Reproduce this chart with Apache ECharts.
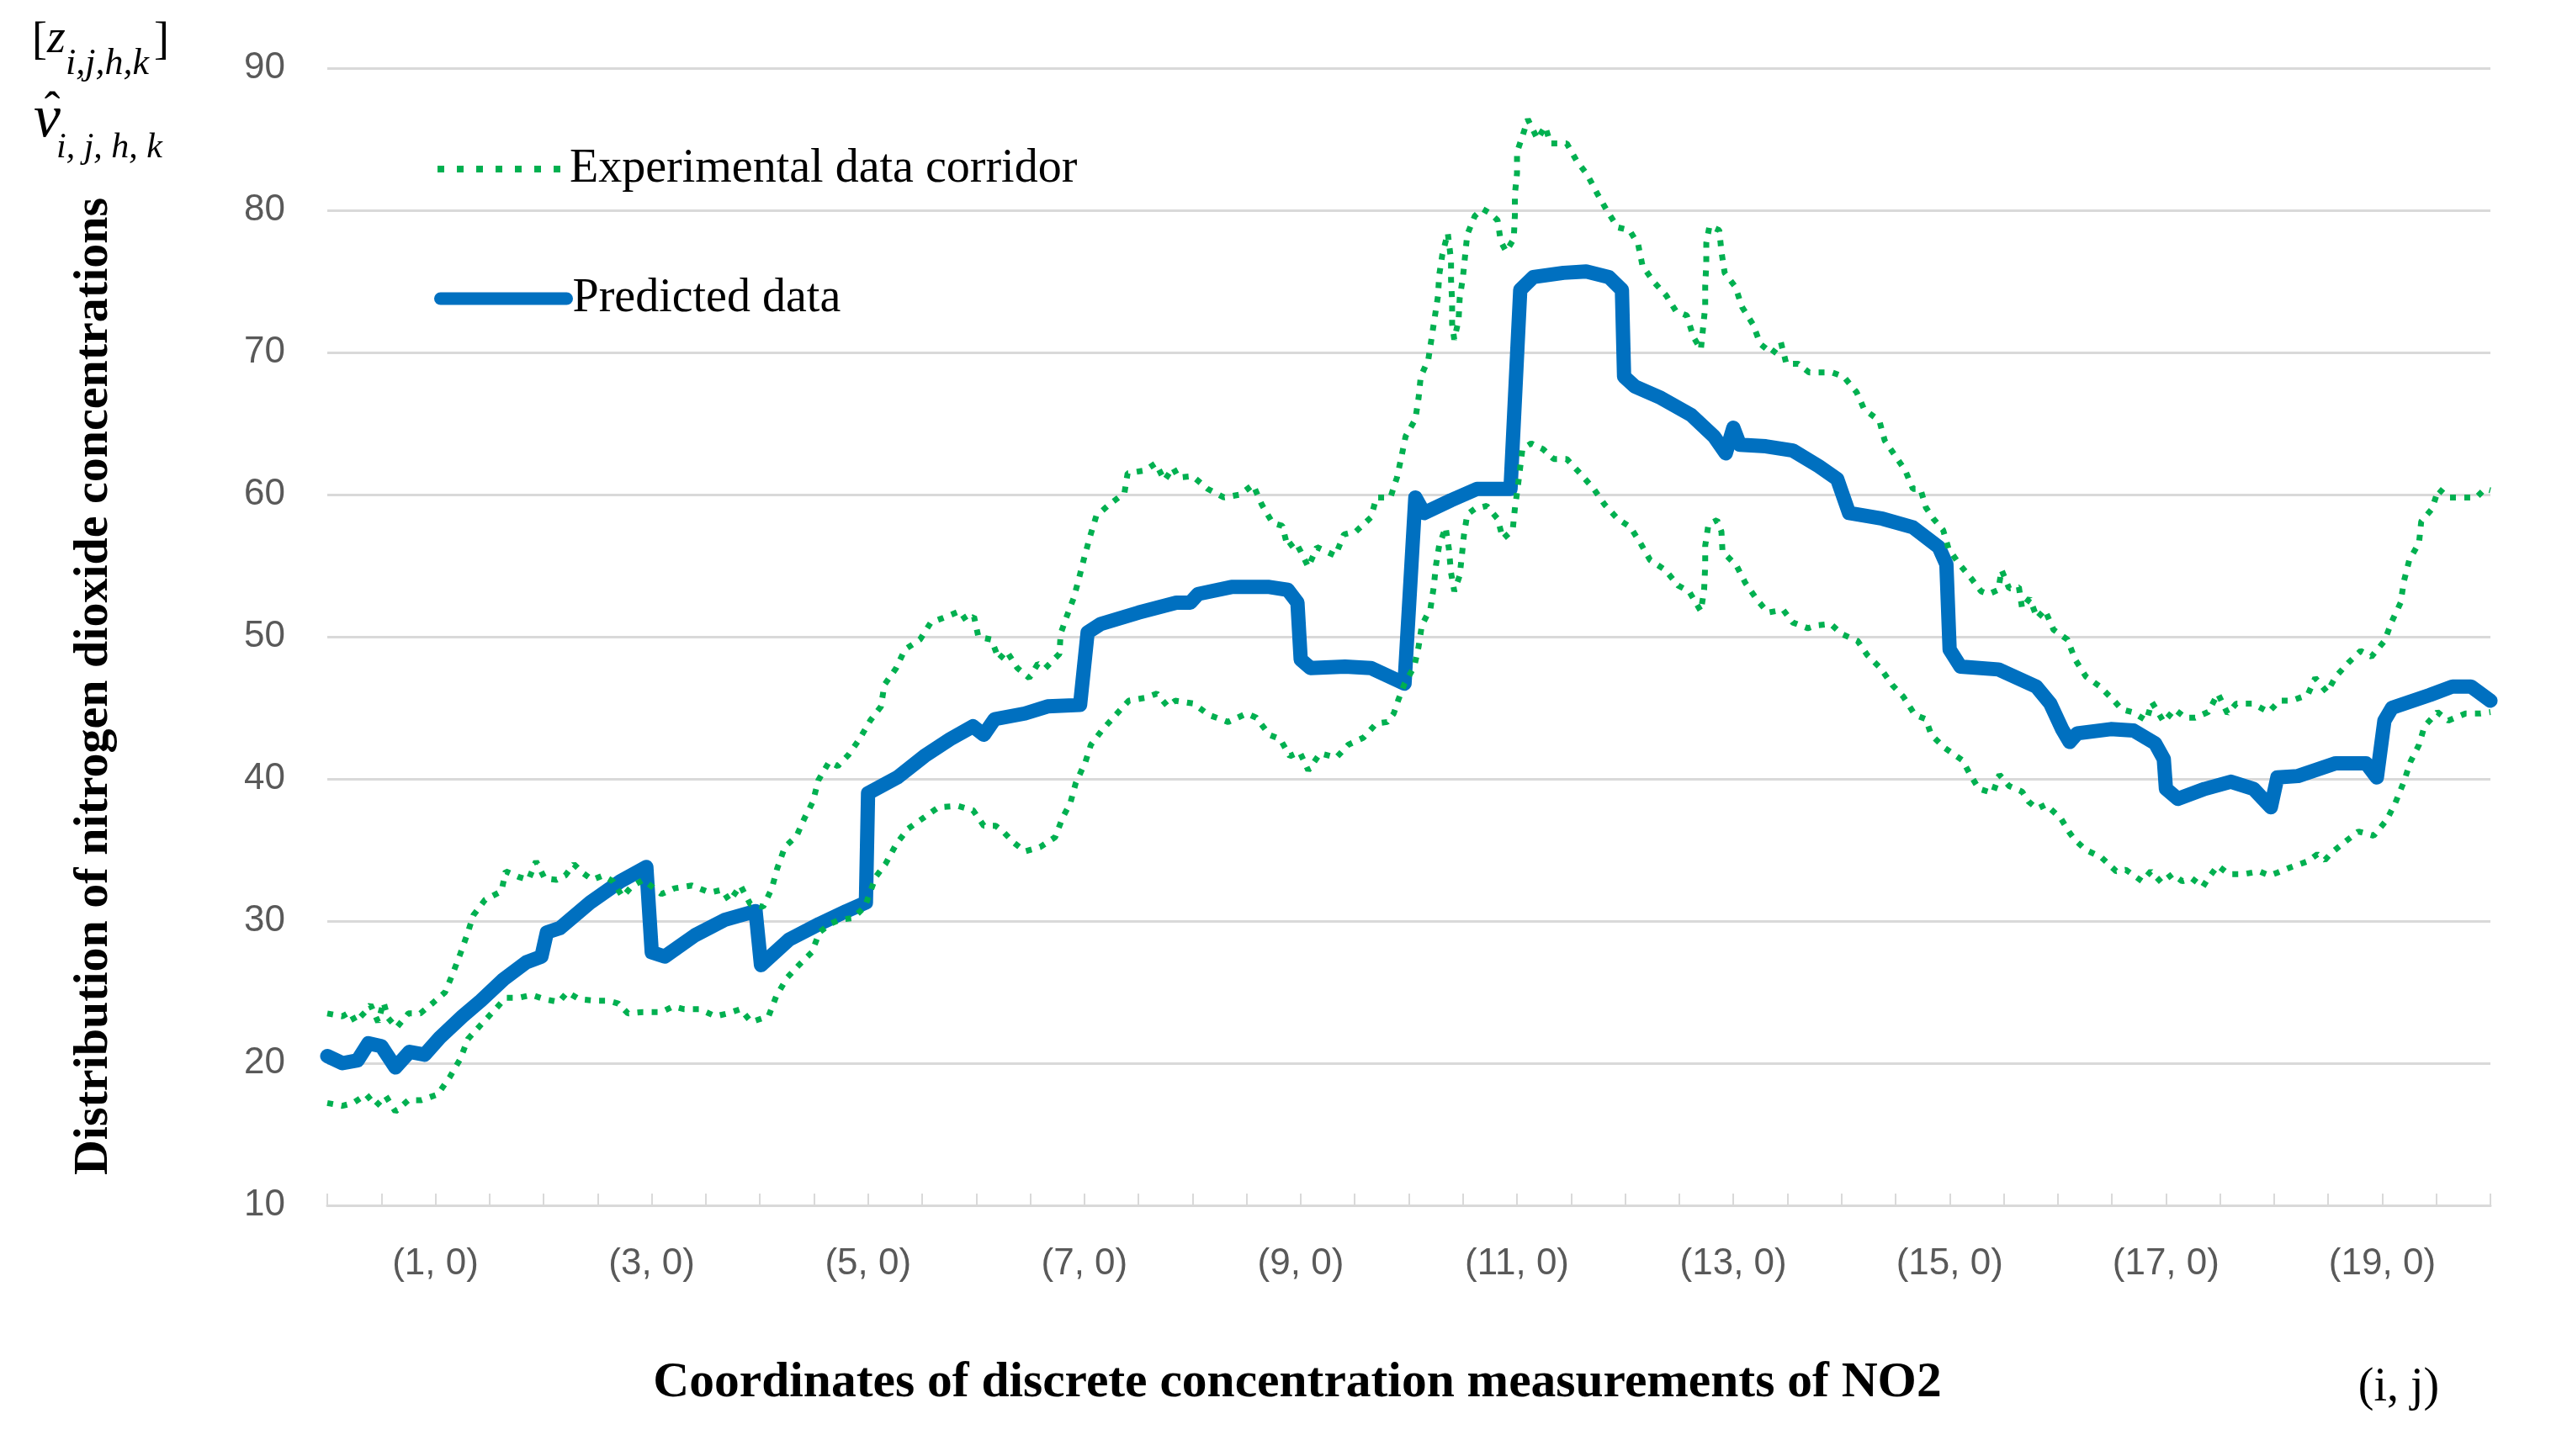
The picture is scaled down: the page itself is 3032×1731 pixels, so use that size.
<!DOCTYPE html>
<html>
<head>
<meta charset="utf-8">
<script src="https://cdn.jsdelivr.net/npm/echarts@6/dist/echarts.min.js"></script>
<style>
html,body{margin:0;padding:0;background:#fff;}
#c{width:3032px;height:1731px;}
</style>
</head>
<body>
<div id="c"></div>
<script>
// x: coordinate i (with j steps in between), y: NO2 concentration
const xTickValues = [1,3,5,7,9,11,13,15,17,19];
const yTicks = [10,20,30,40,50,60,70,80,90];

const predicted = [[0,20.5],[0.14,20.0],[0.28,20.2],[0.38,21.4],[0.5,21.2],[0.63,19.7],[0.76,20.8],[0.9,20.6],[1.04,21.8],[1.25,23.3],[1.42,24.4],[1.63,25.9],[1.84,27.1],[1.98,27.5],[2.03,29.2],[2.15,29.5],[2.43,31.3],[2.71,32.8],[2.95,33.8],[3.0,27.8],[3.12,27.5],[3.4,29.0],[3.68,30.1],[3.96,30.7],[4.01,26.9],[4.27,28.7],[4.55,29.8],[4.8,30.7],[4.98,31.3],[5.0,39.0],[5.27,40.1],[5.52,41.6],[5.76,42.8],[5.97,43.7],[6.07,43.1],[6.17,44.2],[6.45,44.6],[6.66,45.1],[6.96,45.2],[7.03,50.3],[7.15,50.9],[7.5,51.7],[7.85,52.4],[7.98,52.4],[8.05,53.0],[8.36,53.5],[8.71,53.5],[8.88,53.3],[8.97,52.4],[9.0,48.4],[9.09,47.8],[9.41,47.9],[9.65,47.8],[9.96,46.7],[10.06,59.8],[10.14,58.7],[10.39,59.6],[10.63,60.4],[10.94,60.4],[11.03,74.4],[11.15,75.3],[11.43,75.6],[11.64,75.7],[11.85,75.3],[11.97,74.4],[11.99,68.3],[12.09,67.6],[12.33,66.8],[12.61,65.6],[12.82,64.1],[12.93,62.9],[13.0,64.7],[13.06,63.5],[13.3,63.4],[13.55,63.1],[13.79,62.0],[13.96,61.1],[14.07,58.7],[14.38,58.3],[14.66,57.7],[14.9,56.3],[14.97,55.1],[15.0,49.1],[15.1,47.9],[15.45,47.7],[15.8,46.5],[15.93,45.3],[16.04,43.5],[16.11,42.6],[16.18,43.2],[16.49,43.5],[16.7,43.4],[16.9,42.5],[16.98,41.4],[17.0,39.3],[17.11,38.6],[17.36,39.3],[17.6,39.8],[17.81,39.3],[17.97,38.0],[18.03,40.1],[18.22,40.2],[18.57,41.1],[18.85,41.1],[18.95,40.1],[19.02,44.1],[19.09,45.0],[19.44,45.9],[19.65,46.5],[19.82,46.5],[20.0,45.5]];

const corridorUpper = [[0.0,23.5],[0.14,23.3],[0.21,23.6],[0.26,22.9],[0.35,23.6],[0.4,24.1],[0.47,22.9],[0.52,24.3],[0.56,23.2],[0.64,22.5],[0.75,23.5],[0.86,23.5],[0.97,24.2],[1.09,25.0],[1.16,26.3],[1.23,27.7],[1.3,29.2],[1.35,30.4],[1.46,31.5],[1.61,32.1],[1.65,33.5],[1.77,33.1],[1.86,32.9],[1.93,34.2],[2.01,33.0],[2.12,32.9],[2.2,33.2],[2.28,34.0],[2.36,33.4],[2.45,32.9],[2.55,33.2],[2.64,32.8],[2.73,31.7],[2.81,32.4],[2.92,32.9],[3.09,31.9],[3.21,32.3],[3.37,32.5],[3.54,32.0],[3.65,32.2],[3.72,31.4],[3.82,32.5],[3.91,31.2],[4.03,31.0],[4.11,32.3],[4.16,33.7],[4.23,35.2],[4.34,36.0],[4.41,37.2],[4.49,38.4],[4.54,39.9],[4.64,41.2],[4.72,40.9],[4.82,41.7],[4.92,42.8],[5.02,44.1],[5.12,45.1],[5.15,46.6],[5.26,47.8],[5.34,49.1],[5.48,49.8],[5.58,51.0],[5.72,51.4],[5.85,51.8],[5.91,51.1],[5.98,51.4],[6.02,50.0],[6.14,49.8],[6.21,48.4],[6.28,49.0],[6.38,47.8],[6.49,47.1],[6.57,48.1],[6.64,47.8],[6.77,48.8],[6.78,50.2],[6.84,51.5],[6.9,52.7],[6.95,54.1],[7.0,55.6],[7.05,57.0],[7.11,58.5],[7.23,59.3],[7.37,60.1],[7.4,61.5],[7.56,61.7],[7.66,62.2],[7.74,61.0],[7.82,61.9],[7.87,61.2],[8.0,61.3],[8.14,60.4],[8.29,59.8],[8.44,60.0],[8.56,60.7],[8.64,59.3],[8.74,58.0],[8.83,57.8],[8.88,56.3],[8.95,56.7],[9.0,56.0],[9.07,54.9],[9.15,56.3],[9.32,55.7],[9.4,57.2],[9.51,57.4],[9.65,58.4],[9.7,59.8],[9.83,59.8],[9.89,61.2],[9.93,62.6],[9.97,64.1],[10.06,65.3],[10.09,66.8],[10.11,68.3],[10.18,69.5],[10.21,71.0],[10.24,72.5],[10.27,74.0],[10.28,75.4],[10.31,76.9],[10.36,78.4],[10.39,76.5],[10.39,75.1],[10.4,73.6],[10.4,72.0],[10.42,70.9],[10.46,72.3],[10.47,73.8],[10.5,75.3],[10.52,76.8],[10.54,78.3],[10.61,79.6],[10.68,80.1],[10.75,79.8],[10.82,79.3],[10.85,77.8],[10.9,77.1],[10.97,78.0],[10.98,79.6],[10.98,81.1],[11.0,82.6],[11.0,84.1],[11.05,85.2],[11.1,86.4],[11.19,85.0],[11.26,85.9],[11.31,84.7],[11.46,84.7],[11.55,83.5],[11.65,82.5],[11.74,81.2],[11.83,80.0],[11.93,78.8],[12.04,78.6],[12.12,77.6],[12.16,76.1],[12.26,75.0],[12.38,74.0],[12.47,72.9],[12.57,72.6],[12.63,71.1],[12.7,70.2],[12.72,71.7],[12.74,73.2],[12.74,74.7],[12.75,76.2],[12.75,77.7],[12.78,78.9],[12.87,78.6],[12.89,77.1],[12.92,75.6],[13.02,74.6],[13.08,73.2],[13.18,72.0],[13.25,70.6],[13.36,69.9],[13.44,70.7],[13.49,69.2],[13.6,69.2],[13.7,68.6],[13.81,68.6],[13.91,68.6],[14.02,68.3],[14.14,67.2],[14.21,66.0],[14.35,65.2],[14.4,63.8],[14.5,62.7],[14.59,61.7],[14.66,60.4],[14.73,60.4],[14.78,59.1],[14.85,58.3],[14.94,57.5],[14.99,56.2],[15.09,55.1],[15.2,54.1],[15.29,53.2],[15.36,53.0],[15.45,53.3],[15.48,54.7],[15.55,53.4],[15.64,53.5],[15.67,52.0],[15.74,52.7],[15.81,51.3],[15.88,51.9],[15.96,50.5],[16.09,49.8],[16.16,48.4],[16.26,47.2],[16.39,46.5],[16.52,45.5],[16.59,44.9],[16.69,44.7],[16.82,44.1],[16.87,45.4],[16.98,44.0],[17.08,44.9],[17.18,44.3],[17.27,44.3],[17.39,44.7],[17.48,46.0],[17.57,44.6],[17.65,45.3],[17.8,45.3],[17.95,44.7],[18.05,45.5],[18.16,45.5],[18.31,45.9],[18.38,47.1],[18.49,46.1],[18.57,47.2],[18.69,48.2],[18.8,49.0],[18.9,48.6],[19.02,49.7],[19.09,51.1],[19.17,52.4],[19.2,53.9],[19.25,55.4],[19.34,56.6],[19.36,58.1],[19.46,59.0],[19.52,60.4],[19.61,59.8],[19.75,59.8],[19.87,59.8],[19.95,60.4],[20.0,60.3]];

const corridorLower = [[0.0,17.2],[0.14,17.0],[0.24,17.2],[0.36,17.8],[0.45,17.0],[0.54,17.7],[0.63,16.6],[0.75,17.4],[0.87,17.4],[1.02,17.8],[1.13,19.0],[1.23,20.3],[1.3,21.7],[1.42,22.7],[1.53,23.6],[1.65,24.6],[1.77,24.6],[1.89,24.8],[2.01,24.5],[2.14,24.3],[2.22,25.0],[2.33,24.5],[2.47,24.4],[2.6,24.4],[2.69,24.2],[2.78,23.5],[2.92,23.6],[3.09,23.6],[3.2,24.0],[3.3,23.8],[3.44,23.8],[3.59,23.3],[3.7,23.5],[3.82,23.8],[3.92,22.9],[4.08,23.3],[4.15,24.7],[4.25,26.0],[4.36,26.9],[4.48,27.8],[4.55,29.2],[4.65,29.8],[4.74,30.1],[4.86,30.2],[4.97,31.0],[5.07,33.1],[5.16,34.0],[5.26,35.4],[5.37,36.5],[5.52,37.3],[5.65,38.0],[5.83,38.1],[5.97,37.8],[6.07,36.7],[6.18,36.7],[6.26,36.2],[6.35,35.5],[6.45,34.9],[6.59,35.2],[6.73,35.9],[6.8,37.3],[6.87,38.3],[6.92,39.7],[7.01,41.2],[7.06,42.4],[7.16,43.4],[7.29,44.5],[7.41,45.5],[7.56,45.7],[7.67,46.0],[7.77,45.1],[7.84,45.5],[8.01,45.3],[8.15,44.5],[8.33,44.0],[8.5,44.6],[8.59,44.3],[8.71,43.1],[8.81,42.8],[8.9,41.6],[8.99,41.9],[9.07,40.6],[9.18,41.8],[9.33,41.5],[9.44,42.4],[9.58,42.9],[9.7,43.9],[9.8,44.0],[9.86,44.6],[9.9,45.5],[9.96,46.7],[10.05,47.9],[10.09,49.3],[10.12,50.8],[10.2,52.0],[10.23,53.5],[10.25,55.0],[10.28,56.4],[10.34,57.7],[10.37,56.2],[10.39,54.5],[10.42,53.2],[10.47,54.3],[10.49,55.7],[10.51,57.2],[10.54,58.6],[10.61,59.0],[10.72,59.2],[10.82,58.3],[10.87,56.9],[10.96,57.5],[10.98,59.0],[11.01,60.7],[11.05,63.2],[11.13,63.6],[11.24,63.2],[11.34,62.5],[11.46,62.5],[11.57,61.6],[11.71,60.4],[11.81,59.3],[11.93,58.3],[12.05,57.7],[12.14,56.6],[12.23,55.4],[12.37,54.7],[12.49,53.6],[12.59,53.2],[12.7,51.8],[12.73,53.3],[12.74,55.0],[12.74,56.4],[12.77,57.9],[12.85,58.2],[12.89,57.4],[12.9,56.0],[13.03,55.0],[13.11,53.8],[13.22,52.6],[13.32,51.7],[13.46,51.9],[13.55,51.0],[13.69,50.6],[13.77,50.8],[13.9,50.9],[14.0,50.2],[14.15,49.7],[14.24,48.7],[14.36,47.8],[14.47,46.6],[14.57,45.8],[14.68,44.5],[14.78,44.2],[14.83,43.1],[14.95,42.2],[15.12,41.3],[15.19,40.3],[15.27,39.3],[15.4,39.0],[15.46,40.3],[15.55,39.5],[15.67,39.1],[15.73,38.4],[15.81,37.9],[15.89,38.2],[16.03,37.2],[16.11,36.2],[16.16,35.7],[16.26,35.0],[16.4,34.5],[16.54,33.5],[16.63,33.6],[16.78,32.8],[16.86,33.5],[16.96,32.7],[17.06,33.3],[17.15,32.8],[17.24,33.0],[17.34,32.4],[17.39,33.0],[17.48,33.9],[17.58,33.3],[17.72,33.3],[17.86,33.5],[17.96,33.2],[18.03,33.4],[18.16,33.8],[18.31,34.2],[18.4,34.7],[18.47,34.3],[18.53,34.8],[18.66,35.6],[18.78,36.3],[18.92,36.0],[19.04,37.1],[19.12,38.3],[19.2,39.8],[19.26,41.2],[19.34,42.4],[19.39,43.7],[19.51,44.7],[19.61,44.1],[19.77,44.6],[19.91,44.6],[20.0,44.7]];

const GREEN = '#00B050', BLUE = '#0070C0';
const SERIF = '"Liberation Serif", "Times New Roman", serif';
const SANS = '"Liberation Sans", Arial, sans-serif';

const chart = echarts.init(document.getElementById('c'), null, {renderer: 'canvas'});
chart.setOption({
  animation: false,
  backgroundColor: '#fff',
  grid: {left: 389, right: 72, top: 81, bottom: 298, containLabel: false},
  xAxis: {
    type: 'value', min: 0, max: 20, interval: 0.5,
    axisLine: {show: true, lineStyle: {color: '#d9d9d9', width: 3}},
    axisTick: {show: true, inside: true, length: 14, lineStyle: {color: '#d9d9d9', width: 2}},
    splitLine: {show: false},
    axisLabel: {
      fontFamily: SANS, fontSize: 44, color: '#595959', margin: 48,
      formatter: v => xTickValues.indexOf(v) >= 0 ? '(' + v + ', 0)' : ''
    }
  },
  yAxis: {
    type: 'value', min: yTicks[0], max: yTicks[yTicks.length - 1], interval: 10,
    axisLine: {show: false}, axisTick: {show: false},
    splitLine: {lineStyle: {color: '#d9d9d9', width: 3}},
    axisLabel: {fontFamily: SANS, fontSize: 44, color: '#595959', margin: 50}
  },
  legend: [
    {
      data: ['Experimental data corridor'], left: 511, top: 168, orient: 'vertical',
      itemWidth: 146, itemHeight: 14, selectedMode: false,
      itemStyle: {opacity: 0},
      lineStyle: {color: GREEN, width: 8, type: [8, 15]},
      textStyle: {fontFamily: SERIF, fontSize: 56, color: '#000', padding: [0, 0, 0, 6]}
    },
    {
      data: ['Predicted data'], left: 511, top: 322, orient: 'vertical',
      itemWidth: 150, itemHeight: 16, selectedMode: false,
      itemStyle: {opacity: 0},
      lineStyle: {color: BLUE, width: 15, type: 'solid', cap: 'round'},
      textStyle: {fontFamily: SERIF, fontSize: 56, color: '#000', padding: [0, 0, 0, 2]}
    }
  ],
  series: [
    {
      name: 'Predicted data', type: 'line', data: predicted, symbol: 'none',
      lineStyle: {color: BLUE, width: 17, join: 'round', cap: 'round'}, itemStyle: {color: BLUE}
    },
    {
      name: 'Experimental data corridor', type: 'line', data: corridorUpper, symbol: 'none',
      lineStyle: {color: GREEN, width: 7, type: [7, 10]}, itemStyle: {color: GREEN}
    },
    {
      name: 'Experimental data corridor', type: 'line', data: corridorLower, symbol: 'none',
      lineStyle: {color: GREEN, width: 7, type: [7, 10]}, itemStyle: {color: GREEN}
    }
  ],
  graphic: [
    {type: 'text', x: 112, y: 816, rotation: Math.PI / 2,
     style: {text: 'Distribution of nitrogen dioxide concentrations', font: 'bold 58px ' + SERIF, fill: '#000', align: 'center', verticalAlign: 'middle'}},
    {type: 'text', x: 1542, y: 1645,
     style: {text: 'Coordinates of discrete concentration measurements of NO2', font: 'bold 59.5px ' + SERIF, fill: '#000', align: 'center', verticalAlign: 'middle'}},
    {type: 'text', x: 2851, y: 1650,
     style: {text: '(i, j)', font: '56px ' + SERIF, fill: '#000', align: 'center', verticalAlign: 'middle'}},
    {type: 'text', x: 38, y: 50, style: {text: '[', font: '54px ' + SERIF, fill: '#000', align: 'left', verticalAlign: 'middle'}},
    {type: 'text', x: 56, y: 47, style: {text: 'z', font: 'italic 56px ' + SERIF, fill: '#000', align: 'left', verticalAlign: 'middle'}},
    {type: 'text', x: 78, y: 76, style: {text: 'i,j,h,k', font: 'italic 44px ' + SERIF, fill: '#000', align: 'left', verticalAlign: 'middle'}},
    {type: 'text', x: 183, y: 50, style: {text: ']', font: '54px ' + SERIF, fill: '#000', align: 'left', verticalAlign: 'middle'}},
    {type: 'text', x: 62, y: 133, style: {text: '\u02C6', font: '56px ' + SERIF, fill: '#000', align: 'center', verticalAlign: 'middle'}},
    {type: 'text', x: 40, y: 143, style: {text: 'v', font: 'italic 72px ' + SERIF, fill: '#000', align: 'left', verticalAlign: 'middle'}},
    {type: 'text', x: 67, y: 176, style: {text: 'i, j, h, k', font: 'italic 42px ' + SERIF, fill: '#000', align: 'left', verticalAlign: 'middle'}}
  ]
});
</script>
</body>
</html>
